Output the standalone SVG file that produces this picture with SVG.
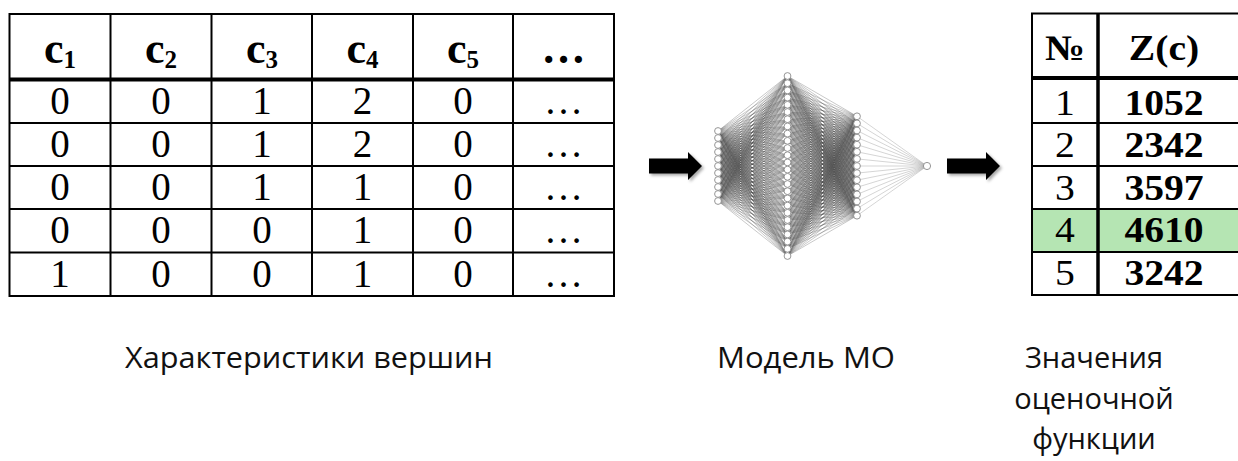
<svg xmlns="http://www.w3.org/2000/svg" xmlns:xlink="http://www.w3.org/1999/xlink" width="1238" height="461" viewBox="0 0 1238 461">
  <style>
    .grid { fill: none; stroke: #000; stroke-width: 2; }
    .thick { fill: none; stroke: #000; stroke-width: 4; }
    .cell { font-family: "Liberation Serif", "Times New Roman", serif; font-size: 39px; fill: #000; text-anchor: middle; }
    .hdr { font-family: "Liberation Serif", "Times New Roman", serif; font-size: 44px; font-weight: bold; fill: #000; text-anchor: middle; }
    .rcell { font-family: "Liberation Serif", "Times New Roman", serif; font-size: 36px; fill: #000; text-anchor: middle; }
    .b { font-weight: bold; }
    .label { font-family: "Open Sans", "Noto Sans", sans-serif; font-size: 29px; fill: #111; text-anchor: middle; }
    .edge { fill: none; stroke: #4a4a4a; stroke-width: 0.6; stroke-opacity: 0.5; vector-effect: non-scaling-stroke; }
    .edge-out { fill: none; stroke: #999; stroke-width: 0.7; stroke-opacity: 0.6; }
    .neuron { fill: #fff; stroke: #8a8a8a; stroke-width: 0.9; }
    .arrow { fill: #000; filter: url(#shadow); }
  </style>
  <defs>
    <filter id="shadow" x="-20%" y="-30%" width="150%" height="170%">
      <feDropShadow dx="2" dy="2" stdDeviation="1.5" flood-color="#000" flood-opacity="0.35"/>
    </filter>
    <!-- fan from a source at (718,0) to every node of the second layer; sheared per source node -->
    <path id="fan12" class="edge" d="M718 0L787.5 76M718 0L787.5 83.2M718 0L787.5 90.4M718 0L787.5 97.6M718 0L787.5 104.8M718 0L787.5 112M718 0L787.5 119.2M718 0L787.5 126.4M718 0L787.5 133.6M718 0L787.5 140.8M718 0L787.5 148M718 0L787.5 155.2M718 0L787.5 162.4M718 0L787.5 169.6M718 0L787.5 176.8M718 0L787.5 184M718 0L787.5 191.2M718 0L787.5 198.4M718 0L787.5 205.6M718 0L787.5 212.8M718 0L787.5 220M718 0L787.5 227.2M718 0L787.5 234.4M718 0L787.5 241.6M718 0L787.5 248.8M718 0L787.5 256"/>
    <!-- fan from a source at (787.5,0) to every node of the third layer -->
    <path id="fan23" class="edge" d="M787.5 0L857 116.3M787.5 0L857 123.4M787.5 0L857 130.5M787.5 0L857 137.6M787.5 0L857 144.7M787.5 0L857 151.8M787.5 0L857 158.9M787.5 0L857 166M787.5 0L857 173.1M787.5 0L857 180.2M787.5 0L857 187.3M787.5 0L857 194.4M787.5 0L857 201.5M787.5 0L857 208.6M787.5 0L857 215.7"/>
  </defs>

  <rect width="1238" height="461" fill="#fff"/>

  <!-- feature table -->
  <g id="features-table">
    <rect class="grid" x="9.5" y="14" width="604.5" height="282"/>
    <path class="grid" d="M110.5 14V296M211.5 14V296M312 14V296M413 14V296M513 14V296M9.5 123H614M9.5 166H614M9.5 209H614M9.5 252.5H614"/>
    <path class="thick" d="M9.5 79.5H614"/>
    <text class="hdr" x="60" y="63">c<tspan font-size="25" dy="5">1</tspan></text>
    <text class="hdr" x="161" y="63">c<tspan font-size="25" dy="5">2</tspan></text>
    <text class="hdr" x="262" y="63">c<tspan font-size="25" dy="5">3</tspan></text>
    <text class="hdr" x="362.5" y="63">c<tspan font-size="25" dy="5">4</tspan></text>
    <text class="hdr" x="463" y="63">c<tspan font-size="25" dy="5">5</tspan></text>
    <text class="hdr" x="563.5" y="63" font-size="38">…</text>

    <text class="cell" x="60" y="114">0</text><text class="cell" x="161" y="114">0</text><text class="cell" x="262" y="114">1</text><text class="cell" x="362.5" y="114">2</text><text class="cell" x="463" y="114">0</text><text class="cell" x="563.5" y="114">…</text>
    <text class="cell" x="60" y="157">0</text><text class="cell" x="161" y="157">0</text><text class="cell" x="262" y="157">1</text><text class="cell" x="362.5" y="157">2</text><text class="cell" x="463" y="157">0</text><text class="cell" x="563.5" y="157">…</text>
    <text class="cell" x="60" y="200">0</text><text class="cell" x="161" y="200">0</text><text class="cell" x="262" y="200">1</text><text class="cell" x="362.5" y="200">1</text><text class="cell" x="463" y="200">0</text><text class="cell" x="563.5" y="200">…</text>
    <text class="cell" x="60" y="243">0</text><text class="cell" x="161" y="243">0</text><text class="cell" x="262" y="243">0</text><text class="cell" x="362.5" y="243">1</text><text class="cell" x="463" y="243">0</text><text class="cell" x="563.5" y="243">…</text>
    <text class="cell" x="60" y="287">1</text><text class="cell" x="161" y="287">0</text><text class="cell" x="262" y="287">0</text><text class="cell" x="362.5" y="287">1</text><text class="cell" x="463" y="287">0</text><text class="cell" x="563.5" y="287">…</text>
  </g>

  <!-- arrows between the stages -->
  <g id="arrow-in">
    <path class="arrow" d="M649 158.5H688V152L702 166L688 180V173.5H649Z"/>
  </g>
  <g id="arrow-out">
    <path class="arrow" d="M947 158.5H986V152L1000 166L986 180V173.5H947Z"/>
  </g>

  <!-- network connections -->
  <g id="connectors">
    <g id="edges-1-2">
      <use xlink:href="#fan12" transform="matrix(1 -1.884892 0 1 0 1484.3525)"/>
      <use xlink:href="#fan12" transform="matrix(1 -1.985612 0 1 0 1563.669)"/>
      <use xlink:href="#fan12" transform="matrix(1 -2.086331 0 1 0 1642.986)"/>
      <use xlink:href="#fan12" transform="matrix(1 -2.187050 0 1 0 1722.302)"/>
      <use xlink:href="#fan12" transform="matrix(1 -2.287770 0 1 0 1801.619)"/>
      <use xlink:href="#fan12" transform="matrix(1 -2.388489 0 1 0 1880.935)"/>
      <use xlink:href="#fan12" transform="matrix(1 -2.489209 0 1 0 1960.252)"/>
      <use xlink:href="#fan12" transform="matrix(1 -2.589928 0 1 0 2039.568)"/>
      <use xlink:href="#fan12" transform="matrix(1 -2.690647 0 1 0 2118.885)"/>
      <use xlink:href="#fan12" transform="matrix(1 -2.791367 0 1 0 2198.201)"/>
      <use xlink:href="#fan12" transform="matrix(1 -2.892086 0 1 0 2277.518)"/>
    </g>
    <g id="edges-2-3">
      <use xlink:href="#fan23" transform="matrix(1 -1.093525 0 1 0 937.151)"/>
      <use xlink:href="#fan23" transform="matrix(1 -1.197122 0 1 0 1025.934)"/>
      <use xlink:href="#fan23" transform="matrix(1 -1.300719 0 1 0 1114.717)"/>
      <use xlink:href="#fan23" transform="matrix(1 -1.404317 0 1 0 1203.499)"/>
      <use xlink:href="#fan23" transform="matrix(1 -1.507914 0 1 0 1292.282)"/>
      <use xlink:href="#fan23" transform="matrix(1 -1.611511 0 1 0 1381.065)"/>
      <use xlink:href="#fan23" transform="matrix(1 -1.715108 0 1 0 1469.847)"/>
      <use xlink:href="#fan23" transform="matrix(1 -1.818705 0 1 0 1558.630)"/>
      <use xlink:href="#fan23" transform="matrix(1 -1.922302 0 1 0 1647.413)"/>
      <use xlink:href="#fan23" transform="matrix(1 -2.025899 0 1 0 1736.196)"/>
      <use xlink:href="#fan23" transform="matrix(1 -2.129496 0 1 0 1824.978)"/>
      <use xlink:href="#fan23" transform="matrix(1 -2.233094 0 1 0 1913.761)"/>
      <use xlink:href="#fan23" transform="matrix(1 -2.336691 0 1 0 2002.544)"/>
      <use xlink:href="#fan23" transform="matrix(1 -2.440288 0 1 0 2091.327)"/>
      <use xlink:href="#fan23" transform="matrix(1 -2.543885 0 1 0 2180.109)"/>
      <use xlink:href="#fan23" transform="matrix(1 -2.647482 0 1 0 2268.892)"/>
      <use xlink:href="#fan23" transform="matrix(1 -2.751079 0 1 0 2357.675)"/>
      <use xlink:href="#fan23" transform="matrix(1 -2.854676 0 1 0 2446.457)"/>
      <use xlink:href="#fan23" transform="matrix(1 -2.958273 0 1 0 2535.240)"/>
      <use xlink:href="#fan23" transform="matrix(1 -3.061871 0 1 0 2624.023)"/>
      <use xlink:href="#fan23" transform="matrix(1 -3.165468 0 1 0 2712.806)"/>
      <use xlink:href="#fan23" transform="matrix(1 -3.269065 0 1 0 2801.588)"/>
      <use xlink:href="#fan23" transform="matrix(1 -3.372662 0 1 0 2890.371)"/>
      <use xlink:href="#fan23" transform="matrix(1 -3.476259 0 1 0 2979.154)"/>
      <use xlink:href="#fan23" transform="matrix(1 -3.579856 0 1 0 3067.936)"/>
      <use xlink:href="#fan23" transform="matrix(1 -3.683453 0 1 0 3156.719)"/>
    </g>
    <path id="edges-3-out" class="edge-out" d="M857 116.3L927 166M857 123.4L927 166M857 130.5L927 166M857 137.6L927 166M857 144.7L927 166M857 151.8L927 166M857 158.9L927 166M857 166L927 166M857 173.1L927 166M857 180.2L927 166M857 187.3L927 166M857 194.4L927 166M857 201.5L927 166M857 208.6L927 166M857 215.7L927 166"/>
  </g>

  <!-- network layers -->
  <g id="layer-input">
    <circle class="neuron" cx="718" cy="131" r="3.4"/><circle class="neuron" cx="718" cy="138" r="3.4"/><circle class="neuron" cx="718" cy="145" r="3.4"/><circle class="neuron" cx="718" cy="152" r="3.4"/><circle class="neuron" cx="718" cy="159" r="3.4"/><circle class="neuron" cx="718" cy="166" r="3.4"/><circle class="neuron" cx="718" cy="173" r="3.4"/><circle class="neuron" cx="718" cy="180" r="3.4"/><circle class="neuron" cx="718" cy="187" r="3.4"/><circle class="neuron" cx="718" cy="194" r="3.4"/><circle class="neuron" cx="718" cy="201" r="3.4"/>
  </g>
  <g id="layer-hidden-1">
    <circle class="neuron" cx="787.5" cy="76" r="3.4"/><circle class="neuron" cx="787.5" cy="83.2" r="3.4"/><circle class="neuron" cx="787.5" cy="90.4" r="3.4"/><circle class="neuron" cx="787.5" cy="97.6" r="3.4"/><circle class="neuron" cx="787.5" cy="104.8" r="3.4"/><circle class="neuron" cx="787.5" cy="112" r="3.4"/><circle class="neuron" cx="787.5" cy="119.2" r="3.4"/><circle class="neuron" cx="787.5" cy="126.4" r="3.4"/><circle class="neuron" cx="787.5" cy="133.6" r="3.4"/><circle class="neuron" cx="787.5" cy="140.8" r="3.4"/><circle class="neuron" cx="787.5" cy="148" r="3.4"/><circle class="neuron" cx="787.5" cy="155.2" r="3.4"/><circle class="neuron" cx="787.5" cy="162.4" r="3.4"/><circle class="neuron" cx="787.5" cy="169.6" r="3.4"/><circle class="neuron" cx="787.5" cy="176.8" r="3.4"/><circle class="neuron" cx="787.5" cy="184" r="3.4"/><circle class="neuron" cx="787.5" cy="191.2" r="3.4"/><circle class="neuron" cx="787.5" cy="198.4" r="3.4"/><circle class="neuron" cx="787.5" cy="205.6" r="3.4"/><circle class="neuron" cx="787.5" cy="212.8" r="3.4"/><circle class="neuron" cx="787.5" cy="220" r="3.4"/><circle class="neuron" cx="787.5" cy="227.2" r="3.4"/><circle class="neuron" cx="787.5" cy="234.4" r="3.4"/><circle class="neuron" cx="787.5" cy="241.6" r="3.4"/><circle class="neuron" cx="787.5" cy="248.8" r="3.4"/><circle class="neuron" cx="787.5" cy="256" r="3.4"/>
  </g>
  <g id="layer-hidden-2">
    <circle class="neuron" cx="857" cy="116.3" r="3.4"/><circle class="neuron" cx="857" cy="123.4" r="3.4"/><circle class="neuron" cx="857" cy="130.5" r="3.4"/><circle class="neuron" cx="857" cy="137.6" r="3.4"/><circle class="neuron" cx="857" cy="144.7" r="3.4"/><circle class="neuron" cx="857" cy="151.8" r="3.4"/><circle class="neuron" cx="857" cy="158.9" r="3.4"/><circle class="neuron" cx="857" cy="166" r="3.4"/><circle class="neuron" cx="857" cy="173.1" r="3.4"/><circle class="neuron" cx="857" cy="180.2" r="3.4"/><circle class="neuron" cx="857" cy="187.3" r="3.4"/><circle class="neuron" cx="857" cy="194.4" r="3.4"/><circle class="neuron" cx="857" cy="201.5" r="3.4"/><circle class="neuron" cx="857" cy="208.6" r="3.4"/><circle class="neuron" cx="857" cy="215.7" r="3.4"/>
  </g>
  <g id="layer-output">
    <circle class="neuron" cx="927" cy="166" r="3.6"/>
  </g>

  <!-- score table -->
  <g id="scores-table">
    <rect x="1032" y="209" width="206" height="43" fill="#b5e5b3"/>
    <path class="grid" d="M1032 13.5V296M1031 13.5H1238M1031 123H1238M1031 166H1238M1031 209H1238M1031 252H1238M1031 295H1238"/>
    <path class="thick" d="M1032 78H1238"/>
    <path fill="none" stroke="#000" stroke-width="3.5" d="M1098 13.5V296"/>
    <g transform="translate(1065 0) scale(1.1 1)">
      <text class="rcell b" x="0" y="60">№</text>
      <text class="rcell" x="0" y="115">1</text>
      <text class="rcell" x="0" y="157.5">2</text>
      <text class="rcell" x="0" y="200">3</text>
      <text class="rcell" x="0" y="242.5">4</text>
      <text class="rcell" x="0" y="285.5">5</text>
    </g>
    <g transform="translate(1164 0) scale(1.1 1)">
      <text class="rcell b" x="0" y="60">Z(c)</text>
      <text class="rcell b" x="0" y="115">1052</text>
      <text class="rcell b" x="0" y="157.5">2342</text>
      <text class="rcell b" x="0" y="200">3597</text>
      <text class="rcell b" x="0" y="242.5">4610</text>
      <text class="rcell b" x="0" y="285.5">3242</text>
    </g>
  </g>

  <!-- captions -->
  <g id="captions">
    <text class="label" x="309" y="368" textLength="368" lengthAdjust="spacingAndGlyphs">Характеристики вершин</text>
    <text class="label" x="806" y="368" textLength="178" lengthAdjust="spacingAndGlyphs">Модель МО</text>
    <text class="label" x="1094" y="368">Значения</text>
    <text class="label" x="1094" y="409">оценочной</text>
    <text class="label" x="1094" y="449">функции</text>
  </g>
</svg>
